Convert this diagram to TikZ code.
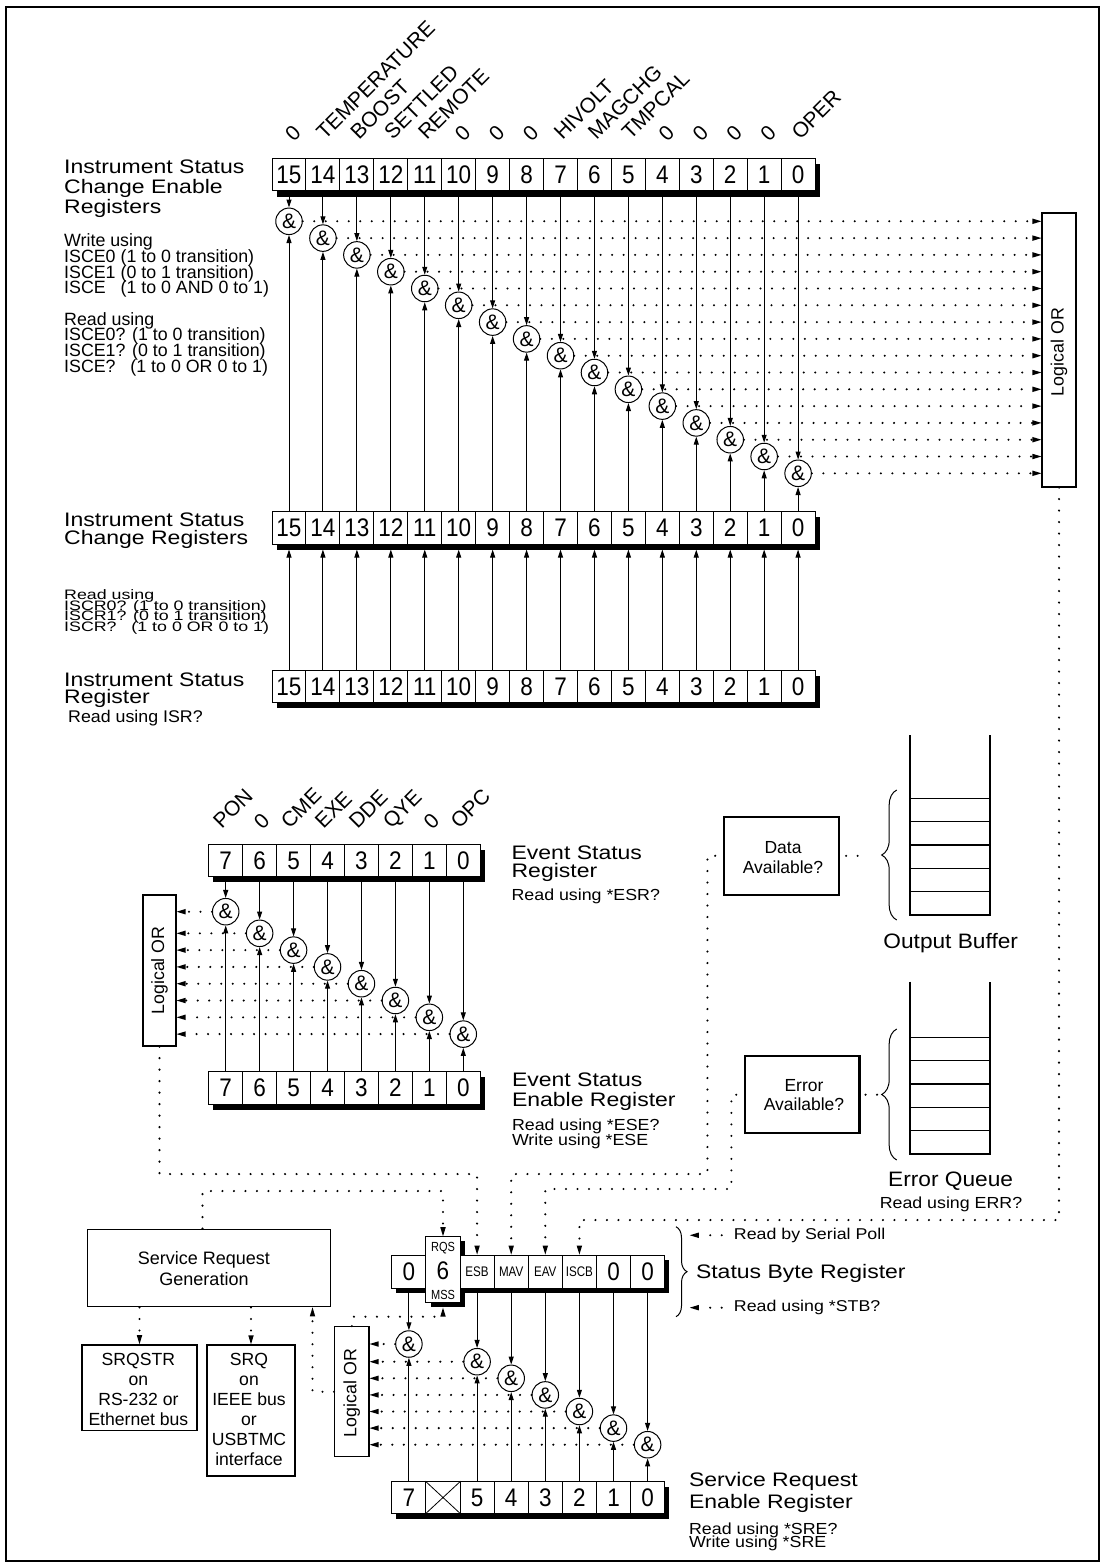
\documentclass[tikz,border=0pt]{standalone}
\usepackage{fontspec}
\setmainfont{Liberation Sans}
\usepackage{graphicx}
\usetikzlibrary{arrows.meta,decorations.pathreplacing,calc}
\newcommand{\fsz}[2]{\fontsize{#1}{#2}\selectfont}
\newcommand{\ttl}[1]{\scalebox{1}[0.85]{\fsz{23}{23}#1}}
\newcommand{\ttlb}[1]{\scalebox{1}[0.92]{\fsz{22.7}{23}#1}}
\newcommand{\dgt}[1]{\scalebox{1}[1.13]{\fsz{22.5}{22.5}#1}}
\newcommand{\smt}[2]{\scalebox{1}[#1]{\fsz{17.8}{18}#2}}
\newcommand{\tinyl}[1]{\scalebox{1}[1.2]{\fsz{11.6}{12}#1}}
\begin{document}
\begin{tikzpicture}[x=1pt,y=-1pt,
  cell/.style={draw, line width=1pt, fill=white, minimum width=33.94pt, minimum height=32.5pt, inner sep=0pt},
  gate/.style={draw, circle, line width=1pt, fill=white, minimum size=26.5pt, inner sep=0pt, font=\fsz{21}{21}},
  sig/.style={line width=1pt, -{Triangle[length=8pt,width=5pt]}},
  dotline/.style={line width=2.3pt, line cap=round, dash pattern=on 0pt off 11.5pt},
  dotarrow/.style={dotline, -{Triangle[length=9pt,width=5.5pt,line width=0pt]}},
  orbox/.style={draw, line width=1.2pt, fill=white, inner sep=0pt},
  ortext/.style={rotate=90, inner sep=0pt, font=\fsz{17.8}{18}},
  txt/.style={anchor=base west, inner sep=0pt},
  ctxt/.style={anchor=base, inner sep=0pt},
  vlabel/.style={rotate=45, anchor=base west, inner sep=0pt, font=\fsz{21}{21}},
  zlabel/.style={rotate=45, anchor=center, inner sep=0pt, font=\fsz{21}{21}},
  box/.style={draw, line width=1.5pt, fill=white, inner sep=0pt},
  bracestyle/.style={line width=1pt, decorate},
]
\useasboundingbox (0,0) rectangle (1105,1566);
\draw[line width=2pt] (6.4,6.7) rectangle (1099,1560.5);

% ===================== Instrument status section =====================
\fill (276.5,163.8) rectangle (819.5,196.5);
\fill (276.5,517.2) rectangle (819.5,549.5);
\fill (276.5,676.2) rectangle (819.5,708.2);
\foreach \bb in {0,...,15}{
  \pgfmathsetmacro\cx{289+(15-\bb)*33.94}
  \node[cell] (a\bb) at (\cx,174.6) {\dgt{\bb}};
  \node[cell] (c\bb) at (\cx,527.8) {\dgt{\bb}};
  \node[cell] (r\bb) at (\cx,686.7) {\dgt{\bb}};
}
\foreach \bb/\lbl in {14/TEMPERATURE,13/BOOST,12/SETTLED,11/REMOTE,7/HIVOLT,6/MAGCHG,5/TMPCAL,0/OPER}{
  \pgfmathsetmacro\cx{289+(15-\bb)*33.94+2}
  \node[vlabel] (la\bb) at (\cx,141) {\lbl};
}
\foreach \bb in {15,10,9,8,4,3,2,1}{
  \pgfmathsetmacro\cx{289+(15-\bb)*33.94+4}
  \node[zlabel] (la\bb) at (\cx,133.3) {0};
}
\node[orbox, minimum width=34pt, minimum height=274pt] (orA) at (1059,350) {};
\node[ortext] (orAt) at (1059,352) {Logical OR};
\foreach \bb in {0,...,15}{
  \pgfmathsetmacro\cx{289+(15-\bb)*33.94}
  \pgfmathsetmacro\gy{221.3+(15-\bb)*16.8}
  \node[gate] (ga\bb) at (\cx,\gy) {\&};
}
\foreach \bb in {0,...,15}{
  \draw[sig] (a\bb.south) -- (ga\bb.north);
  \draw[sig] (c\bb.north) -- (ga\bb.south);
  \draw[sig, shorten >=5pt] (r\bb.north) -- (c\bb.south);
  \draw[dotarrow] (ga\bb.east) -- (ga\bb.east -| orA.west);
}

\node[txt] (t1) at (64,173) {\ttl{Instrument Status}};
\node[txt] (t2) at (64,193) {\ttl{Change Enable}};
\node[txt] (t3) at (64,213) {\ttl{Registers}};
\node[txt] (t4) at (64,246.7) {\smt{1}{Write using}};
\node[txt] (t5) at (64,262.4) {\smt{1}{ISCE0 (1 to 0 transition)}};
\node[txt] (t6) at (64,278) {\smt{1}{ISCE1 (0 to 1 transition)}};
\node[txt] (t7) at (64,293.7) {\smt{1}{ISCE\phantom{0} (1 to 0 AND 0 to 1)}};
\node[txt] (t8) at (64,325) {\smt{1}{Read using}};
\node[txt] (t9) at (64,340.7) {\smt{1}{ISCE0? (1 to 0 transition)}};
\node[txt] (t10) at (64,356.3) {\smt{1}{ISCE1? (0 to 1 transition)}};
\node[txt] (t11) at (64,372) {\smt{1}{ISCE?\phantom{0} (1 to 0 OR 0 to 1)}};

\node[txt] (t12) at (64,526) {\ttl{Instrument Status}};
\node[txt] (t13) at (64,544) {\ttl{Change Registers}};
\node[txt] (t14) at (64,599.5) {\smt{0.77}{Read using}};
\node[txt] (t15) at (64,610.2) {\smt{0.77}{ISCR0? (1 to 0 transition)}};
\node[txt] (t16) at (64,620.9) {\smt{0.77}{ISCR1? (0 to 1 transition)}};
\node[txt] (t17) at (64,631.6) {\smt{0.77}{ISCR?\phantom{0} (1 to 0 OR 0 to 1)}};

\node[txt] (t18) at (64,686) {\ttl{Instrument Status}};
\node[txt] (t19) at (64,703) {\ttl{Register}};
\node[txt] (t20) at (68,722) {\smt{0.95}{Read using ISR?}};

% ===================== Event status section =====================
\fill (213.2,849.8) rectangle (484.7,882.2);
\fill (213.2,1077.2) rectangle (484.7,1109.8);
\foreach \bb in {0,...,7}{
  \pgfmathsetmacro\cx{225.7+(7-\bb)*33.94}
  \node[cell] (es\bb) at (\cx,860.5) {\dgt{\bb}};
  \node[cell] (ee\bb) at (\cx,1088) {\dgt{\bb}};
}
\foreach \bb/\lbl in {7/PON,5/CME,4/EXE,3/DDE,2/QYE,0/OPC}{
  \pgfmathsetmacro\cx{225.7+(7-\bb)*33.94-4}
  \node[vlabel] (le\bb) at (\cx,830) {\lbl};
}
\foreach \bb in {6,1}{
  \pgfmathsetmacro\cx{225.7+(7-\bb)*33.94+2}
  \node[zlabel] (le\bb) at (\cx,821.7) {0};
}
\node[orbox, minimum width=33pt, minimum height=151pt] (orB) at (159.5,970.5) {};
\node[ortext] (orBt) at (159.5,970.5) {Logical OR};
\foreach \bb in {0,...,7}{
  \pgfmathsetmacro\cx{225.7+(7-\bb)*33.94}
  \pgfmathsetmacro\gy{\bb==7 ? 911.7 : 933.3+(6-\bb)*16.8}
  \node[gate] (ge\bb) at (\cx,\gy) {\&};
}
\foreach \bb in {0,...,7}{
  \draw[sig] (es\bb.south) -- (ge\bb.north);
  \draw[sig] (ee\bb.north) -- (ge\bb.south);
  \draw[dotarrow] (ge\bb.west) -- (ge\bb.west -| orB.east);
}
\node[txt] (et1) at (511.4,859.3) {\ttl{Event Status}};
\node[txt] (et2) at (511.4,877.3) {\ttl{Register}};
\node[txt] (et3) at (511.4,900) {\smt{0.9}{Read using *ESR?}};
\node[txt] (et4) at (511.8,1086.7) {\ttl{Event Status}};
\node[txt] (et5) at (511.8,1106.7) {\ttl{Enable Register}};
\node[txt] (et6) at (511.8,1130) {\smt{0.9}{Read using *ESE?}};
\node[txt] (et7) at (511.8,1145) {\smt{0.9}{Write using *ESE}};

% ===================== Output buffer / error queue =====================
\draw[line width=1.3pt] (910,735) -- (910,915) -- (990,915) -- (990,735);
\foreach \k in {0,...,4}{
  \draw[line width=1.3pt] (910,798.3+\k*23.33) -- (990,798.3+\k*23.33);
}
\draw[bracestyle, decoration={brace, amplitude=15pt}] (896.7,920) -- (896.7,790);
\node[ctxt] (obt) at (950.7,948.3) {\ttlb{Output Buffer}};
\node[box, line width=2.2pt, minimum width=115pt, minimum height=78.3pt] (data) at (781.8,855.8) {};
\node[ctxt] (dt1) at (783,853.3) {\fsz{17.5}{18}Data};
\node[ctxt] (dt2) at (783,873.3) {\fsz{17.5}{18}Available?};
\coordinate (obtip) at (881,855.8);
\draw[dotline, shorten <=5.7pt, shorten >=14pt] (data.east) -- (obtip);

\draw[line width=1.3pt] (910,981.7) -- (910,1154) -- (990,1154) -- (990,981.7);
\foreach \k in {0,...,4}{
  \draw[line width=1.3pt] (910,1037.3+\k*23.33) -- (990,1037.3+\k*23.33);
}
\draw[bracestyle, decoration={brace, amplitude=15pt}] (896.7,1160) -- (896.7,1029);
\node[ctxt] (eqt) at (950.6,1186.7) {\ttlb{Error Queue}};
\node[ctxt] (eqr) at (951,1208.3) {\smt{0.9}{Read using ERR?}};
\node[box, line width=2.2pt, minimum width=114.2pt, minimum height=77.3pt] (err) at (802.4,1094.7) {};
\node[ctxt] (ert1) at (804,1091.7) {\fsz{17.5}{18}Error};
\node[ctxt] (ert2) at (804,1110.7) {\fsz{17.5}{18}Available?};
\coordinate (eqtip) at (881.7,1094.7);
\draw[dotline, shorten <=5pt, shorten >=4.6pt] (err.east) -- (eqtip);

% ===================== Status byte section =====================
\fill (430.5,1241.2) rectangle (464.6,1307.2);
\fill (396.3,1260) rectangle (669.1,1293.3);
\foreach \bb/\lbl in {7/\dgt{0},5/\tinyl{ESB},4/\tinyl{MAV},3/\tinyl{EAV},2/\tinyl{ISCB},1/\dgt{0},0/\dgt{0}}{
  \pgfmathsetmacro\cx{408.9+(7-\bb)*34.1}
  \node[cell, minimum width=34.1pt, minimum height=33.3pt] (s\bb) at (\cx,1271.7) {\lbl};
}
\node[cell, minimum width=34.1pt, minimum height=66pt] (s6) at (443,1269.7) {};
\node[inner sep=0pt] (s6r) at (443,1248) {\scalebox{1}[1.2]{\fsz{11}{11}RQS}};
\node[inner sep=0pt] (s6d) at (443,1270.5) {\dgt{6}};
\node[inner sep=0pt] (s6m) at (443,1295) {\scalebox{1}[1.2]{\fsz{11}{11}MSS}};

\fill (396.3,1487.2) rectangle (669.1,1518.8);
\foreach \bb in {7,5,4,3,2,1,0}{
  \pgfmathsetmacro\cx{408.9+(7-\bb)*34.1}
  \node[cell, minimum width=34.1pt, minimum height=31.6pt] (e\bb) at (\cx,1497.5) {\dgt{\bb}};
}
\node[cell, minimum width=34.1pt, minimum height=31.6pt] (e6) at (443,1497.5) {};
\draw[line width=0.8pt] (e6.north west) -- (e6.south east) (e6.north east) -- (e6.south west);

\node[orbox, minimum width=34.4pt, minimum height=130pt] (orC) at (351.8,1391.7) {};
\node[ortext] (orCt) at (351.8,1393) {Logical OR};
\foreach \bb in {7,5,4,3,2,1,0}{
  \pgfmathsetmacro\cx{408.9+(7-\bb)*34.1}
  \pgfmathsetmacro\gy{\bb==7 ? 1344 : 1361.7+(5-\bb)*16.6}
  \node[gate] (gs\bb) at (\cx,\gy) {\&};
}
\foreach \bb in {7,5,4,3,2,1,0}{
  \draw[sig] (s\bb.south) -- (gs\bb.north);
  \draw[sig] (e\bb.north) -- (gs\bb.south);
  \draw[dotarrow] (gs\bb.west) -- (gs\bb.west -| orC.east);
}

\draw[bracestyle, decoration={brace, amplitude=11pt}] (676,1226.7) -- (676,1316.7);
\node[txt] (sbr) at (695.8,1278.3) {\ttl{Status Byte Register}};
\node[txt] (rsp) at (733.7,1239.3) {\smt{0.88}{Read by Serial Poll}};
\node[txt] (rstb) at (733.7,1311.7) {\smt{0.88}{Read using *STB?}};
\coordinate (bz) at (689.8,0);
\draw[dotarrow, shorten <=12pt] (rsp.west) -- (rsp.west -| bz);
\draw[dotarrow, shorten <=12pt] (rstb.west) -- (rstb.west -| bz);

\node[txt] (sre1) at (688.9,1486.7) {\ttl{Service Request}};
\node[txt] (sre2) at (688.9,1508.3) {\ttl{Enable Register}};
\node[txt] (sre3) at (688.9,1534.3) {\smt{0.9}{Read using *SRE?}};
\node[txt] (sre4) at (688.9,1547.7) {\smt{0.9}{Write using *SRE}};

% ===================== Service request generation =====================
\node[box, line width=1.4pt, minimum width=243pt, minimum height=77.4pt] (srg) at (209,1268) {};
\node[ctxt] (srg1) at (204,1264) {\fsz{18}{18}Service Request};
\node[ctxt] (srg2) at (204,1285) {\fsz{18}{18}Generation};
\node[box, minimum width=115pt, minimum height=85.7pt] (sq1) at (139.5,1387.8) {};
\node[ctxt] (q11) at (138.4,1365) {\fsz{17.6}{18}SRQSTR};
\node[ctxt] (q12) at (138.4,1385) {\fsz{17.6}{18}on};
\node[ctxt] (q13) at (138.4,1405) {\fsz{17.6}{18}RS-232 or};
\node[ctxt] (q14) at (138.4,1425) {\fsz{17.6}{18}Ethernet bus};
\node[box, minimum width=88pt, minimum height=131pt] (sq2) at (251,1410.5) {};
\node[ctxt] (q21) at (249,1365) {\fsz{17.6}{18}SRQ};
\node[ctxt] (q22) at (249,1385) {\fsz{17.6}{18}on};
\node[ctxt] (q23) at (249,1405) {\fsz{17.6}{18}IEEE bus};
\node[ctxt] (q24) at (249,1425) {\fsz{17.6}{18}or};
\node[ctxt] (q25) at (249,1445) {\fsz{17.6}{18}USBTMC};
\node[ctxt] (q26) at (249,1465) {\fsz{17.6}{18}interface};

% ===================== dotted connections =====================
\coordinate (c1) at (1059,1220);
\draw[dotarrow] (orA.south) -- (orA.south |- c1) -- (c1 -| s2.north) -- (s2.north);
\coordinate (c2) at (159.5,1174);
\draw[dotarrow] (orB.south) -- (orB.south |- c2) -- (c2 -| s5.north) -- (s5.north);
\coordinate (c3) at (707.4,1174);
\draw[dotarrow, shorten <=8pt] (data.west) -- (data.west -| c3) -- (c3) -- (c3 -| s4.north) -- (s4.north);
\coordinate (c4) at (731.4,1189);
\draw[dotarrow, shorten <=8pt] (err.west) -- (err.west -| c4) -- (c4) -- (c4 -| s3.north) -- (s3.north);
\coordinate (c5) at (202.5,1191);
\draw[dotarrow] (srg.north -| c5) -- (c5) -- (c5 -| s6.north) -- (s6.north);
\coordinate (c6) at (351.8,1316.7);
\draw[dotarrow, shorten >=4.5pt] (orC.north) -- (c6) -- (c6 -| s6.south) -- (s6.south);
\coordinate (c7) at (312.5,1391.7);
\draw[dotarrow] (orC.west) -- (c7) -- (c7 |- srg.south);
\draw[dotarrow] (srg.south -| sq1.north) -- (sq1.north);
\draw[dotarrow] (srg.south -| sq2.north) -- (sq2.north);
\end{tikzpicture}
\end{document}
